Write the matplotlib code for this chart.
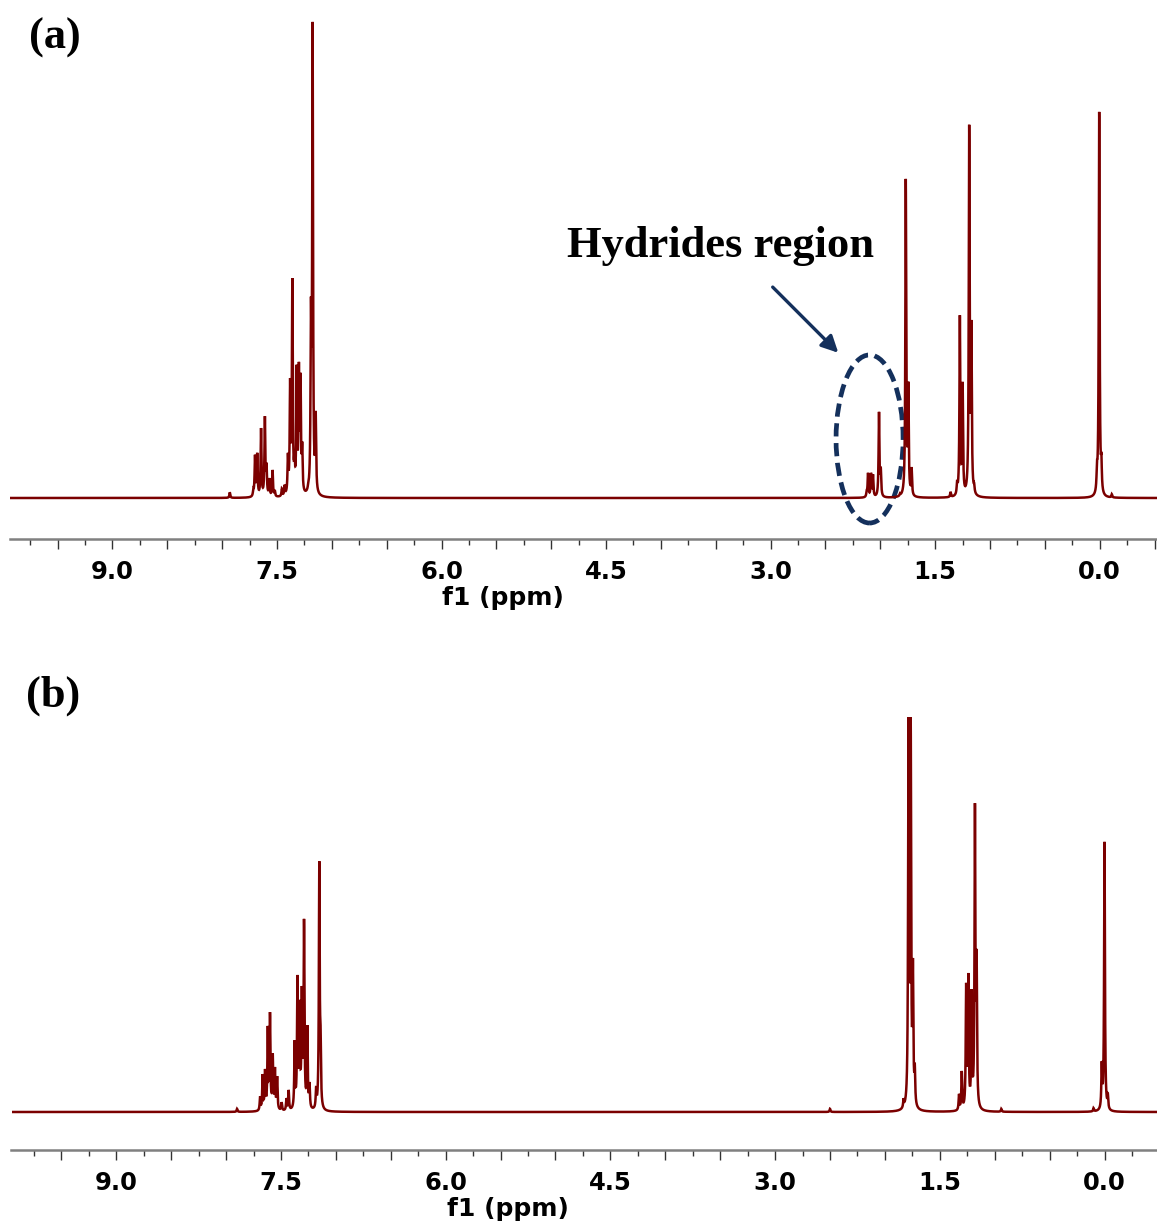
import numpy as np
import matplotlib
matplotlib.use("Agg")
import matplotlib.pyplot as plt
from matplotlib.patches import Ellipse
from matplotlib.ticker import MultipleLocator, FuncFormatter

# ---- peak lists: chemical shift (ppm) and relative intensity (%) ----
shift_a = [7.93, 7.715, 7.70, 7.68, 7.645, 7.61, 7.595, 7.57, 7.54, 7.52,
           7.455, 7.43, 7.40, 7.38, 7.36, 7.34, 7.32, 7.30, 7.285, 7.27,
           7.215, 7.19, 7.175, 7.147,
           2.124, 2.112, 2.085, 2.067, 2.012, 1.996, 1.82,
           1.784, 1.768, 1.745, 1.715,
           1.36, 1.30, 1.275, 1.25, 1.19, 1.17, 1.145,
           0.025, 0.005, -0.015, -0.11]
height_a = [1.2, 2.1, 9.1, 9.5, 14.7, 17.2, 7.4, 4.2, 5.9, 1.7,
            2.0, 2.8, 9.5, 25.2, 46.2, 10.0, 28.0, 28.6, 26.3, 11.8,
            3.2, 42.2, 100.0, 18.3,
            1.7, 5.3, 5.3, 5.0, 18.1, 6.5, 1.0,
            2.1, 66.8, 24.4, 6.5,
            1.3, 3.8, 38.4, 24.4, 78.4, 37.4, 3.2,
            8.0, 81.1, 9.5, 0.8]

shift_b = [7.90, 7.69, 7.667, 7.645, 7.62, 7.60, 7.575, 7.555, 7.535, 7.494,
           7.45, 7.43, 7.375, 7.35, 7.33, 7.31, 7.29, 7.26, 7.24,
           7.18, 7.151, 7.14,
           2.50, 1.83, 1.785, 1.765, 1.745, 1.728,
           1.325, 1.30, 1.26, 1.24, 1.21, 1.18, 1.165,
           0.94, 0.10, 0.025, 0.0, -0.03]
height_b = [0.8, 4.0, 9.6, 10.9, 21.8, 25.3, 14.9, 11.4, 9.1, 2.5,
            3.5, 5.6, 18.2, 34.7, 28.4, 31.9, 48.9, 22.0, 7.6,
            6.3, 63.5, 22.8,
            0.8, 3.5, 100.0, 100.0, 39.0, 12.4,
            4.6, 10.4, 32.7, 35.2, 31.1, 78.2, 41.3,
            0.8, 1.0, 12.9, 68.4, 4.8]

half_width = 0.0045          # Lorentzian half width (ppm)
major_step, minor_step, label_step = 0.5, 0.25, 1.5

spec_color = "#7b0000"
note_color = "#14305c"

W, H = 1157, 1227
fig = plt.figure(figsize=(W / 100, H / 100), dpi=100)

ppm = np.arange(10.2, -0.8, -0.0005)


def lorentz(d):
    return 1.0 / (1.0 + (d / half_width) ** 2)


def spectrum(shifts, heights):
    s = np.asarray(shifts, float)
    h = np.asarray(heights, float)
    # amplitudes chosen so the summed curve reaches each listed height
    amp = np.linalg.solve(lorentz(s[:, None] - s[None, :]), h)
    amp = np.clip(amp, 0, None)
    return (amp[None, :] * lorentz(ppm[:, None] - s[None, :])).sum(axis=1)


def fmt(v, pos):
    k = v / label_step
    if abs(k - round(k)) < 1e-6:
        return f"{abs(v):.1f}" if abs(v) < 1e-9 else f"{v:.1f}"
    return ""


def style_axis(ax, xlim, ylim):
    ax.set_xlim(*xlim)
    ax.set_ylim(*ylim)
    for side in ("top", "left", "right"):
        ax.spines[side].set_visible(False)
    ax.spines["bottom"].set_color("#808080")
    ax.spines["bottom"].set_linewidth(1.8)
    ax.set_yticks([])
    ax.xaxis.set_major_locator(MultipleLocator(major_step))
    ax.xaxis.set_minor_locator(MultipleLocator(minor_step))
    ax.xaxis.set_major_formatter(FuncFormatter(fmt))
    ax.tick_params(axis="x", which="major", direction="out", length=7,
                   width=1.0, color="#333333", pad=8, labelsize=17.5)
    ax.tick_params(axis="x", which="minor", direction="out", length=4,
                   width=1.0, color="#333333")
    for lab in ax.get_xticklabels():
        lab.set_fontweight("bold")
    ax.set_xlabel("f1 (ppm)", fontsize=18, fontweight="bold")
    ax.patch.set_alpha(0)


# ---- panel (a) ----
ax_a = fig.add_axes([9.6 / W, (H - 539) / H, (W - 9.6) / W, 529 / H])
ax_a.plot(ppm, spectrum(shift_a, height_a), color=spec_color, lw=1.8,
          solid_joinstyle="miter")
style_axis(ax_a, (9.937, -0.522), (-8.61, 102.5))
ax_a.xaxis.set_label_coords((503 - 9.6) / (W - 9.6), -(586 - 539) / 529)

ax_a.add_patch(Ellipse((2.098, 12.4), 0.611, 35.3, fill=False,
                       edgecolor=note_color, lw=3.4, linestyle=(0, (2.8, 1.4))))
ax_a.annotate("", xy=(2.383, 30.5), xytext=(2.981, 44.3),
              arrowprops=dict(arrowstyle="-|>,head_length=1.0,head_width=0.5",
                              color=note_color, lw=2.4, shrinkA=0, shrinkB=0))
ax_a.text(3.455, 52.9, "Hydrides region", ha="center", va="center",
          fontsize=32, fontweight="bold", family="Liberation Serif")

# ---- panel (b) ----
ax_b = fig.add_axes([11.5 / W, (H - 1150) / H, (W - 11.5) / W, 510 / H])
ax_b.plot(ppm, spectrum(shift_b, height_b), color=spec_color, lw=1.8,
          solid_joinstyle="miter")
style_axis(ax_b, (9.954, -0.478), (-9.62, 119.5))
ax_b.xaxis.set_label_coords((508 - 11.5) / (W - 11.5), -(1197 - 1150) / 510)

fig.text(54.5 / W, 1 - 37.5 / H, "(a)", ha="center", va="center",
         fontsize=32, fontweight="bold", family="Liberation Serif")
fig.text(53 / W, 1 - 696 / H, "(b)", ha="center", va="center",
         fontsize=32, fontweight="bold", family="Liberation Serif")

fig.savefig("out.png", dpi=100, facecolor="white")
